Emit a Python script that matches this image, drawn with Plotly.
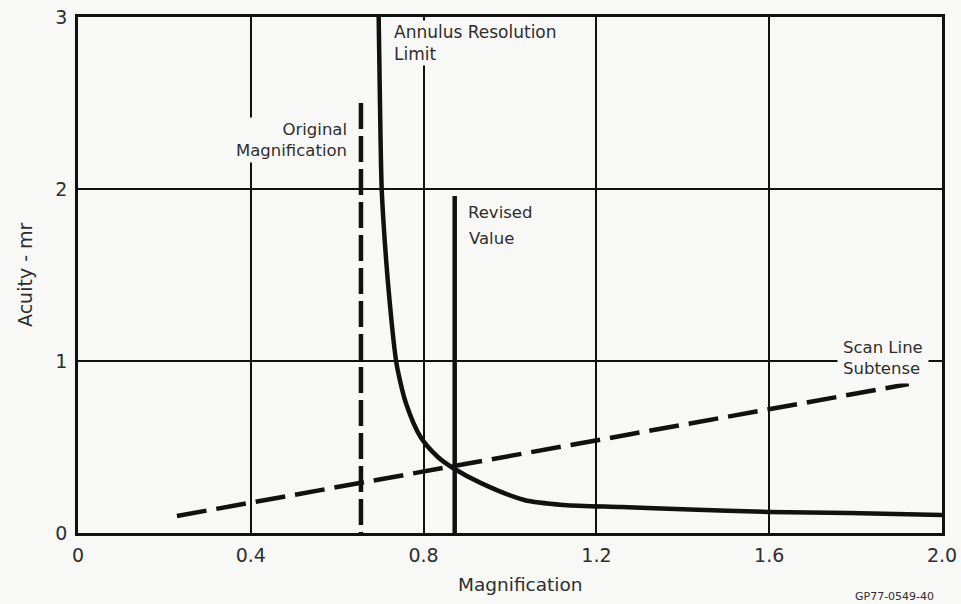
import plotly.graph_objects as go

# Annulus Resolution Limit curve
annulus_x = [0.696, 0.699, 0.703, 0.710, 0.717, 0.727, 0.736, 0.740, 0.759, 0.793, 0.833, 0.868, 0.933, 1.033, 1.125, 1.258, 1.400, 1.600, 1.784, 2.000]
annulus_y = [3.00, 2.50, 2.00, 1.70, 1.47, 1.20, 1.006, 0.948, 0.756, 0.558, 0.442, 0.378, 0.290, 0.192, 0.163, 0.151, 0.138, 0.122, 0.116, 0.105]

# Scan Line Subtense (dashed)
scan_x = [0.229, 1.923]
scan_y = [0.099, 0.866]

# Original magnification (dashed vertical, drawn from the top down)
orig_x = [0.655, 0.655]
orig_y = [2.50, 0.0]

# Revised value (solid vertical)
rev_x = [0.872, 0.872]
rev_y = [0.0, 1.96]

x_ticks = [0, 0.4, 0.8, 1.2, 1.6, 2.0]
x_ticktext = ["0", "0.4", "0.8", "1.2", "1.6", "2.0"]
y_ticks = [0, 1, 2, 3]
y_ticktext = ["0", "1", "2", "3"]

BG = "#f8f8f6"
INK = "#111111"
TXT = "#2e2e2e"
FONT = "DejaVu Sans"

fig = go.Figure()
fig.add_trace(go.Scatter(x=scan_x, y=scan_y, mode="lines",
                         line=dict(color=INK, width=4.5, dash="30px,10px")))
fig.add_trace(go.Scatter(x=orig_x, y=orig_y, mode="lines",
                         line=dict(color=INK, width=4.5, dash="26px,7px")))
fig.add_trace(go.Scatter(x=rev_x, y=rev_y, mode="lines",
                         line=dict(color=INK, width=4.5)))
fig.add_trace(go.Scatter(x=annulus_x, y=annulus_y, mode="lines",
                         line=dict(color=INK, width=4.5, shape="spline", smoothing=0.8)))

ann_font = dict(family=FONT, size=16.5, color=TXT)
fig.add_annotation(x=0.727, y=(533 - 43) / 172, xref="x", yref="y", text="Annulus Resolution<br>Limit",
                   showarrow=False, xanchor="left", yanchor="middle", align="left",
                   font=dict(family=FONT, size=17, color=TXT), bgcolor=BG, borderpad=1)
fig.add_annotation(x=0.629, y=(533 - 140) / 172, xref="x", yref="y", text="Original<br>Magnification",
                   showarrow=False, xanchor="right", yanchor="middle", align="right",
                   font=ann_font, bgcolor=BG, borderpad=2)
fig.add_annotation(x=0.898, y=(533 - 212.5) / 172, xref="x", yref="y", text="Revised",
                   showarrow=False, xanchor="left", yanchor="middle", align="left",
                   font=ann_font)
fig.add_annotation(x=0.901, y=(533 - 238) / 172, xref="x", yref="y", text="Value",
                   showarrow=False, xanchor="left", yanchor="middle", align="left",
                   font=ann_font)
fig.add_annotation(x=1.757, y=(533 - 357.5) / 172, xref="x", yref="y", text="Scan Line<br>Subtense",
                   showarrow=False, xanchor="left", yanchor="middle", align="left",
                   font=ann_font, bgcolor=BG, borderpad=5)

# axis titles and figure id
fig.add_annotation(x=(25 - 78) / 864, y=(533 - 275) / 516, xref="paper", yref="paper",
                   text="Acuity - mr", textangle=-90, showarrow=False,
                   xanchor="center", yanchor="middle",
                   font=dict(family=FONT, size=19, color=TXT))
fig.add_annotation(x=(520 - 78) / 864, y=(533 - 584) / 516, xref="paper", yref="paper",
                   text="Magnification", showarrow=False,
                   xanchor="center", yanchor="middle",
                   font=dict(family=FONT, size=18.5, color=TXT))
fig.add_annotation(x=(936 - 78) / 864, y=(533 - 596) / 516, xref="paper", yref="paper",
                   text="GP77-0549-40", showarrow=False,
                   xanchor="right", yanchor="middle",
                   font=dict(family=FONT, size=11, color=TXT))

fig.update_xaxes(range=[0, 2.0], tickvals=x_ticks, ticktext=x_ticktext,
                 showgrid=True, gridcolor=INK, gridwidth=1.5,
                 showline=True, linecolor=INK, linewidth=2.5, mirror=True,
                 zeroline=False, ticks="", ticklabelstandoff=3, automargin=False,
                 tickfont=dict(family=FONT, size=19, color=TXT))
fig.update_yaxes(range=[0, 3.0], tickvals=y_ticks, ticktext=y_ticktext,
                 showgrid=True, gridcolor=INK, gridwidth=1.5,
                 showline=True, linecolor=INK, linewidth=2.5, mirror=True,
                 zeroline=False, ticks="", ticklabelstandoff=4, automargin=False,
                 tickfont=dict(family=FONT, size=19, color=TXT))

fig.update_layout(width=961, height=604, showlegend=False,
                  margin=dict(l=78, r=19, t=17, b=71, autoexpand=False),
                  paper_bgcolor=BG, plot_bgcolor=BG)

fig.write_html("out.html")
